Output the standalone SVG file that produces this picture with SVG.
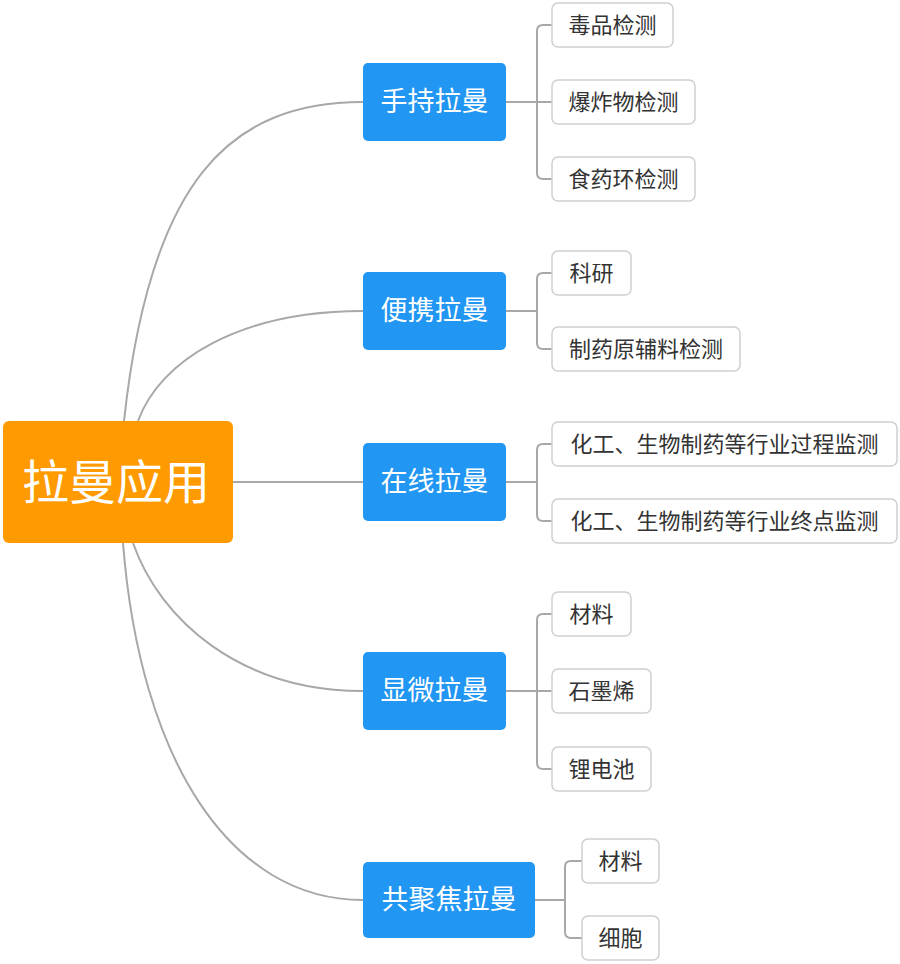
<svg xmlns="http://www.w3.org/2000/svg" width="900" height="964" viewBox="0 0 900 964">
<style>
text{font-family:"Noto Sans CJK SC","Noto Sans",sans-serif;text-anchor:middle;}
.root rect{fill:#FF9A00;}
.root text{fill:#fff;font-size:47px;}
.main rect{fill:#2196F3;}
.main text{fill:#fff;font-size:27px;}
.leaf rect{fill:#fff;stroke:#cfcfcf;stroke-width:1.5;}
.leaf text{fill:#333;font-size:22px;}
.conn path{fill:none;stroke:#a8a8a8;stroke-width:2;}
</style>
<rect width="900" height="964" fill="#fff"/>
<g class="conn">
<path d="M124 421 C150 180 230 102 363 102"/>
<path d="M138 421 C160 360 240 311 363 311"/>
<path d="M233 482 H363"/>
<path d="M133 543 C160 620 240 691 363 691"/>
<path d="M123 543 C140 760 230 900 363 900"/>
<path d="M506 102 H552 M552 25 H543 Q537 25 537 31 V173 Q537 179 543 179 H552"/>
<path d="M506 311 H537 M552 273 H543 Q537 273 537 279 V343 Q537 349 543 349 H552"/>
<path d="M506 482 H537 M552 444 H543 Q537 444 537 450 V515 Q537 521 543 521 H552"/>
<path d="M506 691 H552 M552 614 H543 Q537 614 537 620 V763 Q537 769 543 769 H552"/>
<path d="M535 900 H565 M582 861 H571 Q565 861 565 867 V932 Q565 938 571 938 H582"/>
</g>
<g id="root" class="root"><rect x="3" y="421" width="230" height="122" rx="6"/><text x="116" y="499">拉曼应用</text></g>
<g id="n1" class="main"><rect x="363" y="63" width="143" height="78" rx="5"/><text x="434.500" y="111">手持拉曼</text></g>
<g id="n2" class="main"><rect x="363" y="272" width="143" height="78" rx="5"/><text x="434.500" y="320">便携拉曼</text></g>
<g id="n3" class="main"><rect x="363" y="443" width="143" height="78" rx="5"/><text x="434.500" y="491">在线拉曼</text></g>
<g id="n4" class="main"><rect x="363" y="652" width="143" height="78" rx="5"/><text x="434.500" y="700">显微拉曼</text></g>
<g id="n5" class="main"><rect x="363" y="862" width="172" height="76" rx="5"/><text x="449" y="909">共聚焦拉曼</text></g>
<g id="l1" class="leaf"><rect x="552" y="3" width="121" height="44" rx="6"/><text x="612.500" y="33">毒品检测</text></g>
<g id="l2" class="leaf"><rect x="552" y="80" width="143" height="44" rx="6"/><text x="623.500" y="110">爆炸物检测</text></g>
<g id="l3" class="leaf"><rect x="552" y="157" width="143" height="44" rx="6"/><text x="623.500" y="187">食药环检测</text></g>
<g id="l4" class="leaf"><rect x="552" y="251" width="79" height="44" rx="6"/><text x="591.500" y="281">科研</text></g>
<g id="l5" class="leaf"><rect x="552" y="327" width="188" height="44" rx="6"/><text x="646" y="357">制药原辅料检测</text></g>
<g id="l6" class="leaf"><rect x="552" y="422" width="345" height="44" rx="6"/><text x="724.500" y="452">化工、生物制药等行业过程监测</text></g>
<g id="l7" class="leaf"><rect x="552" y="499" width="345" height="44" rx="6"/><text x="724.500" y="529">化工、生物制药等行业终点监测</text></g>
<g id="l8" class="leaf"><rect x="552" y="592" width="79" height="44" rx="6"/><text x="591.500" y="622">材料</text></g>
<g id="l9" class="leaf"><rect x="552" y="669" width="99" height="44" rx="6"/><text x="601.500" y="699">石墨烯</text></g>
<g id="l10" class="leaf"><rect x="552" y="747" width="99" height="44" rx="6"/><text x="601.500" y="777">锂电池</text></g>
<g id="l11" class="leaf"><rect x="582" y="839" width="77" height="44" rx="6"/><text x="620.500" y="869">材料</text></g>
<g id="l12" class="leaf"><rect x="582" y="916" width="77" height="44" rx="6"/><text x="620.500" y="946">细胞</text></g>
</svg>
